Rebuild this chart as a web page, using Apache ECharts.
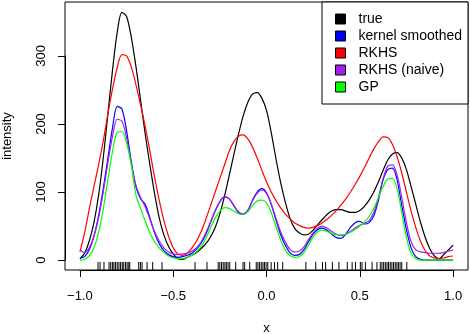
<!DOCTYPE html>
<html>
<head>
<meta charset="utf-8">
<script src="https://cdn.jsdelivr.net/npm/echarts@6/dist/echarts.min.js"></script>
<style>
  html, body { margin: 0; padding: 0; background: #fff; }
  #chart { width: 470px; height: 334px; }
</style>
</head>
<body>
<div id="chart"></div>
<script>
// x grid the curves are read at (step 0.025 from -1 to 1)
var xs = [];
for (var i = 0; i <= 80; i++) xs.push(+(-1 + i * 0.025).toFixed(3));

var trueVals = [2, 10, 28, 55, 95, 150, 215, 280, 335, 364, 358, 328, 285, 235, 185, 140, 98, 62, 37, 20,
  9, 2, 1, 4, 7, 11, 17, 24, 34, 48, 68, 94, 124, 155, 185, 212, 232, 244, 246, 238,
  220, 188, 150, 115, 86, 62, 47, 40, 37, 38, 44, 52, 60, 67, 72, 74, 74, 72, 70, 70,
  73, 79, 88, 100, 115, 132, 147, 156, 158, 150, 133, 108, 82, 56, 34, 17, 6, 2, 8, 15, 22];
var kernelVals = [3, 5, 15, 35, 65, 105, 150, 195, 226, 222, 190, 145, 108, 90, 82, 62, 40, 24, 14, 8,
  5, 4, 5, 7, 10, 16, 25, 38, 55, 72, 86, 93, 90, 80, 70, 67, 73, 88, 100, 105,
  99, 82, 60, 38, 22, 11, 7, 8, 15, 27, 38, 45, 47, 44, 38, 33, 32, 38, 48, 55,
  57, 53, 55, 65, 88, 118, 133, 135, 118, 80, 45, 18, 5, 1, 0, 0, 0, 0, 0, 0, 0];
var rkhsVals = [12, 40, 75, 108, 140, 175, 215, 252, 283, 302, 300, 284, 258, 228, 196, 160, 122, 88, 58, 35,
  18, 9, 7, 10, 18, 28, 42, 60, 80, 100, 120, 140, 160, 174, 182, 184, 178, 166, 150, 132,
  115, 100, 88, 77, 68, 61, 55, 51, 48, 47, 48, 51, 55, 60, 66, 73, 81, 90, 100, 111,
  123, 136, 150, 163, 174, 181, 180, 170, 152, 128, 100, 72, 48, 28, 14, 6, 3, 2, 3, 5, 6];
var naiveVals = [15, 11, 18, 35, 62, 100, 143, 182, 207, 204, 180, 142, 110, 92, 78, 60, 42, 28, 18, 12,
  9, 8, 9, 10, 13, 18, 27, 40, 56, 73, 86, 93, 90, 80, 71, 68, 73, 87, 98, 103,
  98, 83, 62, 42, 27, 16, 12, 13, 19, 30, 40, 47, 50, 47, 42, 38, 36, 38, 42, 47,
  51, 54, 58, 70, 92, 120, 138, 140, 125, 92, 55, 27, 15, 12, 11, 10, 10, 10, 11, 13, 15];
var gpVals = [0, 1, 6, 18, 40, 75, 118, 160, 188, 189, 172, 140, 96, 76, 57, 40, 27, 18, 11, 6,
  3, 2, 2, 4, 7, 12, 20, 32, 47, 62, 72, 77, 76, 72, 68, 67, 71, 80, 87, 88,
  84, 70, 50, 30, 15, 7, 4, 5, 11, 22, 34, 42, 44, 42, 39, 37, 37, 38, 41, 45,
  50, 56, 64, 76, 92, 108, 119, 120, 105, 70, 33, 10, 2, 0, 0, 0, 0, 0, 0, 0, 0];

// observation locations shown as a rug
var rugX = [-0.903, -0.892, -0.871, -0.844, -0.835, -0.826, -0.818, -0.809, -0.800, -0.791, -0.782, -0.773,
  -0.765, -0.755, -0.747, -0.738, -0.733, -0.685, -0.676, -0.667, -0.640, -0.610, -0.560, -0.383, -0.319,
  -0.259, -0.250, -0.241, -0.232, -0.223, -0.215, -0.206, -0.197, -0.165, -0.126, -0.117, -0.090, -0.055,
  -0.046, -0.037, -0.028, -0.019, -0.011, -0.002, 0.007, 0.025, 0.043, 0.060, 0.087, 0.211, 0.264, 0.300,
  0.317, 0.353, 0.388, 0.433, 0.459, 0.477, 0.503, 0.512, 0.530, 0.566, 0.592, 0.610, 0.619, 0.628, 0.637,
  0.646, 0.654, 0.663, 0.672, 0.681, 0.690, 0.699, 0.707, 0.716, 0.725, 0.752];

var seriesNames = ['true', 'kernel smoothed', 'RKHS', 'RKHS (naive)', 'GP'];
var seriesColors = ['#000000', '#0000FF', '#FF0000', '#A020F0', '#00FF00'];
var seriesVals = [trueVals, kernelVals, rkhsVals, naiveVals, gpVals];

var xTicks = [-1, 1, 0.5];   // min, max, step
var yTicks = [0, 300, 100];

var W = 470, H = 334;
var box = { left: 65, top: 2, right: 2, bottom: 64 };
var xRange = [-1.08, 1.08];
var yRange = [-14.6, 379.3];
var plotW = W - box.left - box.right;
var plotH = H - box.top - box.bottom;
function px(x) { return box.left + (x - xRange[0]) / (xRange[1] - xRange[0]) * plotW; }
function py(y) { return box.top + (yRange[1] - y) / (yRange[1] - yRange[0]) * plotH; }

var font = 'Liberation Sans, Arial, Helvetica, sans-serif';
var chart = echarts.init(document.getElementById('chart'), null, { renderer: 'canvas' });

var series = seriesNames.map(function (name, k) {
  return {
    name: name,
    type: 'line',
    xAxisIndex: 0,
    yAxisIndex: 0,
    data: xs.map(function (x, i) { return [x, seriesVals[k][i]]; }),
    smooth: 0.3,
    showSymbol: false,
    symbol: 'none',
    lineStyle: { color: seriesColors[k], width: 1.2 },
    itemStyle: { color: seriesColors[k] },
    z: 3
  };
});

series.push({
  name: 'rug',
  type: 'custom',
  xAxisIndex: 0,
  yAxisIndex: 0,
  data: rugX.map(function (x) { return [x, yRange[0]]; }),
  renderItem: function (params, api) {
    var p = api.coord([api.value(0), yRange[0]]);
    return {
      type: 'line',
      shape: { x1: p[0], y1: p[1], x2: p[0], y2: p[1] - 0.03 * plotH },
      style: { stroke: '#000', lineWidth: 1 }
    };
  },
  z: 2
});

var option = {
  animation: false,
  backgroundColor: '#fff',
  textStyle: { fontFamily: font },
  grid: [
    { left: box.left, top: box.top, right: box.right, bottom: box.bottom, show: true,
      outerBoundsMode: 'none', containLabel: false,
      borderColor: '#000', borderWidth: 1, backgroundColor: 'transparent' },
    // axis frame: R draws axis lines only from first to last tick
    { left: px(xTicks[0]), right: W - px(xTicks[1]), top: py(yTicks[1]), bottom: H - py(yTicks[0]),
      outerBoundsMode: 'none', containLabel: false, show: false }
  ],
  xAxis: [
    { gridIndex: 0, type: 'value', min: xRange[0], max: xRange[1],
      axisLine: { show: false }, axisTick: { show: false }, axisLabel: { show: false }, splitLine: { show: false },
      name: 'x', nameLocation: 'middle', nameGap: 52,
      nameTextStyle: { fontSize: 13, color: '#000', fontFamily: font } },
    { gridIndex: 1, type: 'value', min: xTicks[0], max: xTicks[1], interval: xTicks[2],
      position: 'bottom',
      offset: (H - box.bottom) - py(yTicks[0]),
      axisLine: { show: true, onZero: false, lineStyle: { color: '#000', width: 1 } },
      axisTick: { show: true, length: 7, inside: false, lineStyle: { color: '#000', width: 1 } },
      axisLabel: { fontSize: 13, color: '#000', fontFamily: font, margin: 20,
        formatter: function (v) { return v.toFixed(1).replace('-', '\u2212'); } },
      splitLine: { show: false } }
  ],
  yAxis: [
    { gridIndex: 0, type: 'value', min: yRange[0], max: yRange[1],
      axisLine: { show: false }, axisTick: { show: false }, axisLabel: { show: false }, splitLine: { show: false },
      name: 'intensity', nameLocation: 'middle', nameGap: 51,
      nameTextStyle: { fontSize: 13, color: '#000', fontFamily: font } },
    { gridIndex: 1, type: 'value', min: yTicks[0], max: yTicks[1], interval: yTicks[2],
      position: 'left',
      offset: px(xTicks[0]) - box.left,
      axisLine: { show: true, onZero: false, lineStyle: { color: '#000', width: 1 } },
      axisTick: { show: true, length: 7, inside: false, lineStyle: { color: '#000', width: 1 } },
      axisLabel: { fontSize: 13, color: '#000', fontFamily: font, rotate: 90, margin: 17 },
      splitLine: { show: false } }
  ],
  legend: {
    data: seriesNames,
    orient: 'vertical',
    right: box.right,
    top: box.top,
    icon: 'rect',
    itemWidth: 10,
    itemHeight: 10,
    itemGap: 3,
    padding: [10, 6, 10, 13],
    borderColor: '#000',
    borderWidth: 1,
    backgroundColor: '#fff',
    itemStyle: { borderColor: '#000', borderWidth: 1 },
    textStyle: { fontSize: 14, color: '#000', fontFamily: font, lineHeight: 14, padding: [0, 0, 0, 8] },
    selectedMode: false
  },
  series: series
};
chart.setOption(option);
</script>
</body>
</html>
